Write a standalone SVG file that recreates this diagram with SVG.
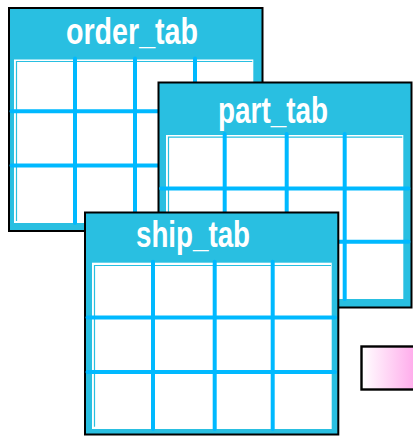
<svg xmlns="http://www.w3.org/2000/svg" width="413" height="436" viewBox="0 0 413 436">
<defs>
<linearGradient id="pinkGrad" gradientUnits="userSpaceOnUse" x1="362" y1="0" x2="418" y2="0">
<stop offset="0" stop-color="#FFFFFF"/>
<stop offset="1" stop-color="#FFA6EA"/>
</linearGradient>
<style>
.frame{fill:#29BFE1;stroke:#000000;stroke-width:2}
.body{fill:#FFFFFF}
.inset{fill:none;stroke:#29BFE1;stroke-width:1.2}
.grid{fill:none;stroke:#00B9FF;stroke-width:4;stroke-linecap:round}
.title{font-family:"Liberation Sans",Arial,sans-serif;font-weight:bold;font-size:36px;fill:#FFFFFF}
.box{fill:url(#pinkGrad);stroke:#000000;stroke-width:2.4}
</style>
</defs>
<g id="connectors"/>
<g id="order_tab">
<rect class="frame" x="9" y="8" width="253.5" height="223"/>
<rect class="body" x="14" y="59.5" width="239.3" height="163.5"/>
<path class="inset" d="M16.5 221V61.5H252.3"/>
<path class="grid" d="M75 58.5V223M135 58.5V223M195 58.5V223M11.5 111.3H259.5M11.5 165.5H259.5"/>
<text class="title" x="66" y="44" textLength="132" lengthAdjust="spacingAndGlyphs">order_tab</text>
</g>
<g id="part_tab">
<rect class="frame" x="158.5" y="82.5" width="253" height="225"/>
<rect class="body" x="166" y="135" width="237.3" height="164"/>
<path class="inset" d="M168.5 297V137.2H402.3"/>
<path class="grid" d="M224.7 134V299M286.7 134V299M344.7 134V299M161 188.5H408.5M161 241.7H408.5"/>
<text class="title" x="218" y="123" textLength="110" lengthAdjust="spacingAndGlyphs">part_tab</text>
</g>
<g id="ship_tab">
<rect class="frame" x="85" y="212.5" width="253.3" height="222"/>
<rect class="body" x="92" y="262.7" width="239.7" height="166.3"/>
<path class="inset" d="M94.5 426.7V265.5H331"/>
<path class="grid" d="M153 261.7V429M214.7 261.7V429M272.7 261.7V429M87.5 317.5H335M87.5 372H335"/>
<text class="title" x="136" y="247.3" textLength="114" lengthAdjust="spacingAndGlyphs">ship_tab</text>
</g>
<g id="pink_box">
<rect class="box" x="361.5" y="346.5" width="60" height="43"/>
</g>
</svg>
